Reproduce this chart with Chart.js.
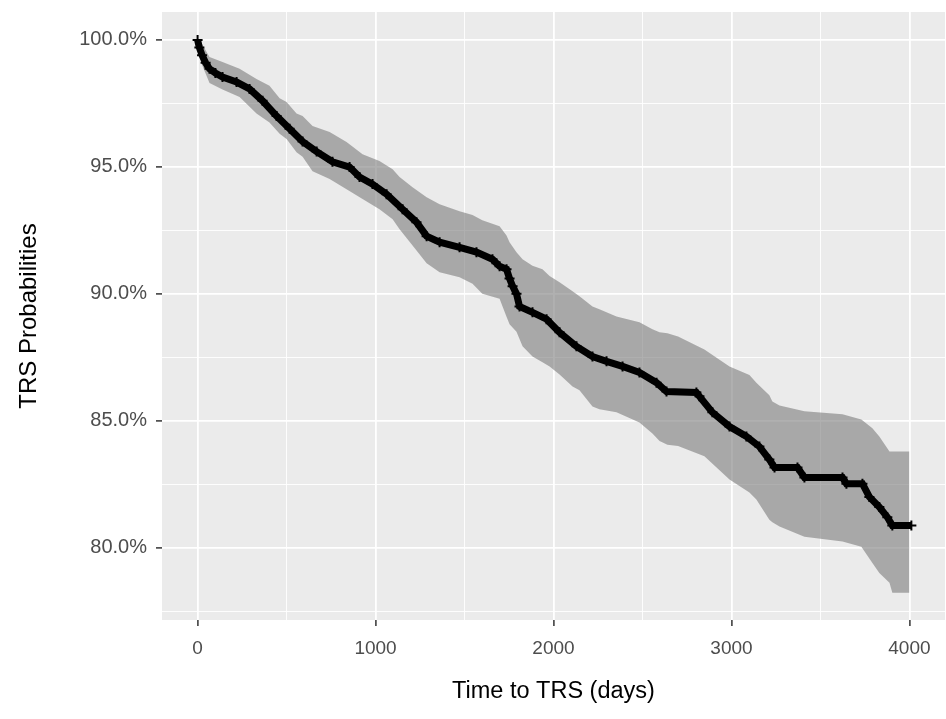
<!DOCTYPE html>
<html><head><meta charset="utf-8">
<script src="https://cdn.jsdelivr.net/npm/chart.js@4.4.1/dist/chart.umd.min.js"></script>
<style>html,body{margin:0;padding:0;background:#fff;}#wrap{width:946px;height:719px;}</style>
</head><body><div id="wrap"><canvas id="c" width="946" height="719"></canvas></div>
<script>
// Kaplan-Meier estimate (days, %)
const survTime = [0,10,25,45,67,100,140,219,292,365,444,517,590,669,758,854,910,983,1062,1152,1230,1287,1360,1472,1567,1657,1697,1736,1753,1770,1792,1809,1882,1961,2034,2129,2219,2298,2388,2483,2579,2635,2803,2820,2893,2989,3084,3157,3213,3242,3371,3410,3624,3646,3736,3775,3831,3876,3904,4011];
const survProb = [100,99.7,99.4,99.1,98.86,98.7,98.54,98.34,98.07,97.6,97.0,96.5,96.0,95.6,95.2,94.99,94.6,94.32,93.92,93.33,92.82,92.27,92.03,91.83,91.64,91.36,91.08,90.97,90.6,90.3,90.0,89.5,89.27,89.0,88.48,87.93,87.53,87.34,87.14,86.9,86.5,86.15,86.11,85.96,85.33,84.77,84.38,83.98,83.47,83.16,83.16,82.76,82.76,82.52,82.52,82.0,81.6,81.2,80.87,80.87];
// confidence band
const bandTime  = [0,20,67,140,236,331,404,461,500,556,590,646,742,837,927,1022,1096,1135,1208,1287,1360,1472,1545,1600,1697,1736,1753,1792,1826,1882,1938,1978,2034,2107,2146,2219,2258,2354,2483,2556,2596,2640,2700,2848,2989,3101,3140,3213,3230,3270,3410,3624,3730,3792,3831,3888,3904,4000];
const bandUpper = [100,99.9,99.33,99.13,98.86,98.46,98.19,97.7,97.55,97.1,97.0,96.61,96.37,95.98,95.5,95.23,94.91,94.6,94.2,93.8,93.53,93.25,93.1,92.9,92.66,92.3,92.03,91.64,91.36,91.1,90.97,90.7,90.45,90.1,89.9,89.5,89.39,89.11,88.88,88.6,88.48,88.45,88.32,87.81,87.14,86.8,86.5,86.0,85.76,85.6,85.37,85.25,85.05,84.7,84.38,83.79,83.79,83.79];
const bandLower = [100,99.1,98.3,98.05,97.75,97.1,96.75,96.3,96.1,95.58,95.4,94.83,94.52,94.12,93.73,93.33,92.94,92.54,91.9,91.2,90.85,90.65,90.4,90.0,89.8,89.1,88.8,88.5,87.93,87.53,87.3,87.14,86.82,86.35,86.2,85.56,85.45,85.33,84.93,84.5,84.2,84.05,84.0,83.6,82.68,82.17,81.9,81.1,81.0,80.83,80.43,80.24,80.04,79.4,79.0,78.62,78.22,78.22];
// axis ticks (major labelled, minor = midpoints)
const xTickValues = [0,1000,2000,3000,4000];
const yTickValues = [80,85,90,95,100];
const xTitle = 'Time to TRS (days)';
const yTitle = 'TRS Probabilities';

const xMinor = xTickValues.slice(0,-1).map((v,i)=>(v+xTickValues[i+1])/2);
const yMinor = [yTickValues[0]-2.5].concat(yTickValues.slice(0,-1).map((v,i)=>(v+yTickValues[i+1])/2));
const xAll = xTickValues.concat(xMinor).sort((a,b)=>a-b);
const yAll = yTickValues.concat(yMinor).sort((a,b)=>a-b);
const isMajX = v => xTickValues.includes(v);
const isMajY = v => yTickValues.includes(v);

const panelBg = {id:'panelBg', beforeDraw(chart){const {ctx,chartArea:a}=chart;ctx.save();ctx.fillStyle='#EBEBEB';ctx.fillRect(a.left,a.top,a.right-a.left,a.bottom-a.top);ctx.restore();}};

const font = 'Liberation Sans, Arial, sans-serif';
new Chart(document.getElementById('c'), {
  type:'line',
  data:{datasets:[
    {data:bandTime.map((t,i)=>({x:t,y:bandUpper[i]})), order:2, borderWidth:0, pointRadius:0, fill:'+1', backgroundColor:'rgba(128,128,128,0.62)', tension:0},
    {data:bandTime.map((t,i)=>({x:t,y:bandLower[i]})), order:3, borderWidth:0, pointRadius:0, fill:false, tension:0},
    {data:survTime.map((t,i)=>({x:t,y:survProb[i]})), order:0, borderColor:'#000', borderWidth:7, fill:false, tension:0,
     pointStyle:'cross', pointRadius:5, pointBorderWidth:2, pointBorderColor:'#000', pointBackgroundColor:'#000'}
  ]},
  options:{
    responsive:false, animation:false, devicePixelRatio:1,
    layout:{autoPadding:false, padding:{top:12,right:1,left:0,bottom:0}},
    plugins:{legend:{display:false}, tooltip:{enabled:false}},
    scales:{
      x:{type:'linear', min:-200, max:4200,
        afterBuildTicks:s=>{s.ticks=xAll.map(v=>({value:v}));},
        afterFit:s=>{s.height=99; s.paddingLeft=0; s.paddingRight=0;},
        ticks:{autoSkip:false, maxRotation:0, padding:11, color:'#4D4D4D', font:{family:font,size:19}, callback:v=>isMajX(v)?String(v):''},
        grid:{color:'#fff', lineWidth:c=>isMajX(c.tick.value)?1.8:0.9, tickColor:c=>isMajX(c.tick.value)?'#333':'rgba(0,0,0,0)', tickLength:6, tickWidth:1.5},
        border:{display:false},
        title:{display:true, text:xTitle, color:'#000', font:{family:font,size:23.5}, padding:{top:0,bottom:13}}
      },
      y:{type:'linear', min:77.15, max:101.1,
        afterBuildTicks:s=>{s.ticks=yAll.map(v=>({value:v}));},
        afterFit:s=>{s.width=162; s.paddingTop=0; s.paddingBottom=0;},
        ticks:{autoSkip:false, padding:9, color:'#4D4D4D', font:{family:font,size:20}, callback:v=>isMajY(v)?v.toFixed(1)+'%':''},
        grid:{color:'#fff', lineWidth:c=>isMajY(c.tick.value)?1.8:0.9, tickColor:c=>isMajY(c.tick.value)?'#333':'rgba(0,0,0,0)', tickLength:6, tickWidth:1.5},
        border:{display:false},
        title:{display:true, text:yTitle, color:'#000', font:{family:font,size:24}, padding:{top:15,bottom:0}}
      }
    }
  },
  plugins:[panelBg]
});
</script></body></html>
